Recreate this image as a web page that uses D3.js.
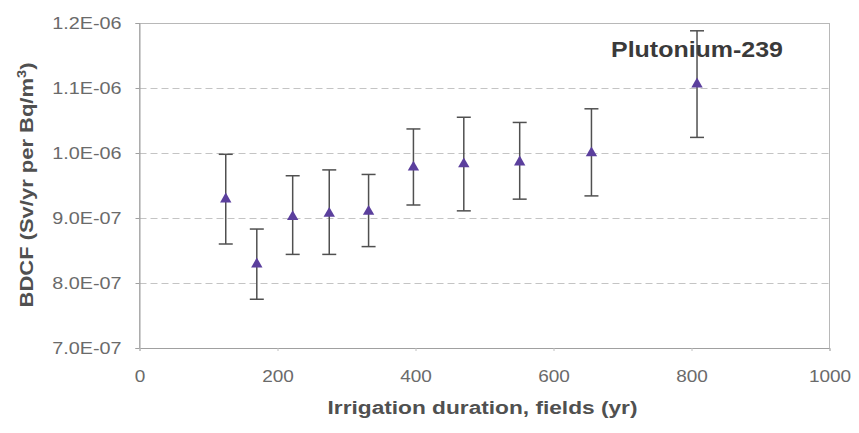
<!DOCTYPE html>
<html>
<head>
<meta charset="utf-8">
<script src="https://cdn.jsdelivr.net/npm/d3@7"></script>
<style>
  html, body { margin: 0; padding: 0; background: #fff; }
  svg { display: block; }
  text { font-family: "Liberation Sans", Arial, sans-serif; }
</style>
</head>
<body>
<svg id="chart" width="859" height="433"></svg>
<script>
// ---- data ----
const duration = [125, 170, 222, 275, 332, 397, 470, 551, 655, 808];
const bdcf     = [9.29e-7, 8.29e-7, 9.02e-7, 9.07e-7, 9.10e-7, 9.78e-7, 9.83e-7, 9.86e-7, 1.00e-6, 1.106e-6];
const errHigh  = [9.98e-7, 8.83e-7, 9.65e-7, 9.74e-7, 9.67e-7, 1.037e-6, 1.055e-6, 1.047e-6, 1.068e-6, 1.188e-6];
const errLow   = [8.60e-7, 7.75e-7, 8.44e-7, 8.44e-7, 8.56e-7, 9.20e-7, 9.11e-7, 9.29e-7, 9.34e-7, 1.024e-6];
const xTicks   = [0, 200, 400, 600, 800, 1000];
const yTicks   = [7e-7, 8e-7, 9e-7, 1.0e-6, 1.1e-6, 1.2e-6];
const seriesLabel = "Plutonium-239";
const xTitle = "Irrigation duration, fields (yr)";

const svg = d3.select("#chart");
const pLeft = 139.5, pRight = 829.5, pTop = 23, pBottom = 348;

const x = d3.scaleLinear().domain([0, 1000]).range([pLeft, pRight]);
const y = d3.scaleLinear().domain([7e-7, 1.2e-6]).range([pBottom, pTop]);

function sciFmt(d) {
  const e = Math.floor(Math.log10(d) + 1e-9);
  const m = d / Math.pow(10, e);
  const sign = e < 0 ? "-" : "+";
  return m.toFixed(1) + "E" + sign + String(Math.abs(e)).padStart(2, "0");
}

function stretch(sel, k) {
  sel.each(function () {
    const w = this.getComputedTextLength();
    d3.select(this).attr("textLength", w * k).attr("lengthAdjust", "spacingAndGlyphs");
  });
}

// gridlines (dashed)
svg.append("g")
  .selectAll("line")
  .data(yTicks.filter(t => t > 7e-7 && t < 1.2e-6))
  .join("line")
  .attr("x1", pLeft).attr("x2", pRight)
  .attr("y1", d => Math.round(y(d)) + 0.5).attr("y2", d => Math.round(y(d)) + 0.5)
  .attr("stroke", "#c4c4c4").attr("stroke-width", 1)
  .attr("stroke-dasharray", "7,4");

// plot frame
svg.append("rect")
  .attr("x", pLeft).attr("y", pTop + 0.5)
  .attr("width", pRight - pLeft).attr("height", pBottom - pTop)
  .attr("fill", "none").attr("stroke", "#b8b8b8").attr("stroke-width", 1);

// axes
const yAxis = svg.append("g")
  .attr("transform", `translate(${pLeft},0)`)
  .call(d3.axisLeft(y).tickValues(yTicks).tickFormat(sciFmt).tickSize(4).tickPadding(14));
yAxis.select(".domain").attr("stroke", "#a0a0a0");
yAxis.selectAll(".tick line").attr("stroke", "#a0a0a0");
yAxis.selectAll(".tick text")
  .attr("fill", "#6a6a6a").style("font-size", "16.5px")
  .style("font-family", "'Liberation Sans', Arial, sans-serif")
  .call(stretch, 1.2);

const xAxis = svg.append("g")
  .attr("transform", `translate(0,${pBottom})`)
  .call(d3.axisBottom(x).tickValues(xTicks).tickFormat(d3.format("d")).tickSize(3).tickPadding(19));
xAxis.select(".domain").attr("stroke", "#a0a0a0");
xAxis.selectAll(".tick line").attr("stroke", "#c0c0c0");
xAxis.selectAll(".tick text")
  .attr("fill", "#6a6a6a").style("font-size", "16.5px")
  .style("font-family", "'Liberation Sans', Arial, sans-serif")
  .call(stretch, 1.15);

// error bars
const pts = duration.map((d, i) => ({ x: d, y: bdcf[i], hi: errHigh[i], lo: errLow[i] }));
const capHalf = 7;
const eb = svg.append("g").attr("stroke", "#505050").attr("stroke-width", 1.5);
eb.selectAll("line.v").data(pts).join("line").attr("class", "v")
  .attr("x1", d => x(d.x)).attr("x2", d => x(d.x))
  .attr("y1", d => y(d.hi)).attr("y2", d => y(d.lo));
eb.selectAll("line.t").data(pts).join("line").attr("class", "t")
  .attr("x1", d => x(d.x) - capHalf).attr("x2", d => x(d.x) + capHalf)
  .attr("y1", d => y(d.hi)).attr("y2", d => y(d.hi));
eb.selectAll("line.b").data(pts).join("line").attr("class", "b")
  .attr("x1", d => x(d.x) - capHalf).attr("x2", d => x(d.x) + capHalf)
  .attr("y1", d => y(d.lo)).attr("y2", d => y(d.lo));

// triangle markers
const tri = d3.symbol().type(d3.symbolTriangle).size(56);
svg.append("g").selectAll("path").data(pts).join("path")
  .attr("d", tri)
  .attr("transform", d => `translate(${x(d.x)},${y(d.y)})`)
  .attr("fill", "#5b3f9d");

// series label
svg.append("text")
  .attr("x", 611).attr("y", 57)
  .attr("fill", "#3a3a3a")
  .style("font-size", "22px").style("font-weight", "bold")
  .text(seriesLabel)
  .attr("textLength", 172).attr("lengthAdjust", "spacingAndGlyphs");

// x title (stretched horizontally to the reference width)
const xCenter = (pLeft + pRight) / 2 - 2;
const xt = svg.append("text")
  .attr("text-anchor", "middle")
  .attr("fill", "#505050")
  .style("font-size", "17.5px").style("font-weight", "bold")
  .text(xTitle);
const xtw = xt.node().getBBox().width;
xt.attr("transform", `translate(${xCenter},414) scale(${310 / xtw},1)`);

// y title (rotated, stretched along its length)
const yt = svg.append("text")
  .attr("text-anchor", "middle")
  .attr("fill", "#505050")
  .style("font-size", "18px").style("font-weight", "bold");
yt.append("tspan").text("BDCF (Sv/yr per Bq/m");
yt.append("tspan").attr("dy", -7).style("font-size", "12px").text("3");
yt.append("tspan").attr("dy", 7).text(")");
const ytw = yt.node().getBBox().width;
yt.attr("transform", `translate(33,185) rotate(-90) scale(${245 / ytw},1)`);
</script>
</body>
</html>
